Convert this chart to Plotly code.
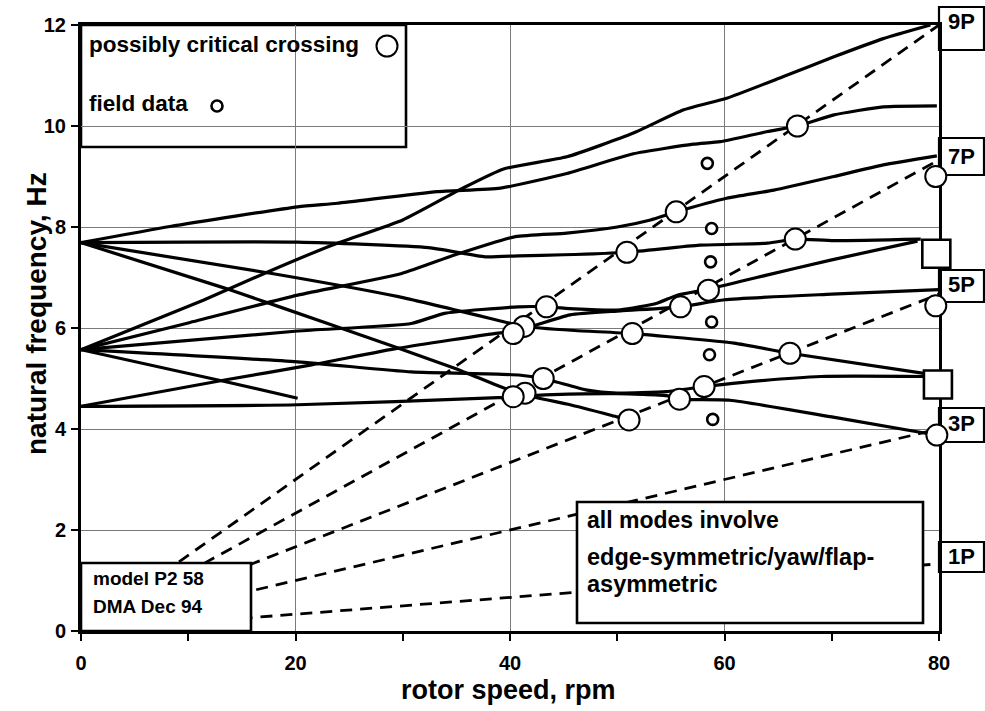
import plotly.graph_objects as go

# ---------------- data ----------------
# solid mode curves: rotor speed (rpm) and natural frequency (Hz)
modeA_x = [0, 8.3, 20.2, 23.9, 33.2, 39.1, 45.3, 51.5, 57.1, 59.6, 64, 66.8, 70.2, 74.8, 79.8]
modeA_y = [7.69, 8.01, 8.40, 8.47, 8.70, 8.77, 9.06, 9.45, 9.64, 9.69, 9.89, 10.0, 10.22, 10.38, 10.40]

modeB_x = [0, 11.4, 17.3, 23.4, 30, 35.6, 39.4, 45.3, 51.5, 56.2, 60.2, 65.5, 70.2, 74.8, 79.2]
modeB_y = [5.57, 6.55, 7.1, 7.64, 8.14, 8.77, 9.15, 9.39, 9.86, 10.32, 10.55, 10.98, 11.37, 11.73, 12.0]

modeC_x = [0, 10, 20.2, 29.9, 34.9, 40.5, 45.3, 50, 53.1, 55.5, 60.2, 64.6, 70.2, 74.8, 79.8]
modeC_y = [5.57, 6.1, 6.65, 7.08, 7.45, 7.81, 7.88, 8.0, 8.14, 8.3, 8.57, 8.73, 9.0, 9.23, 9.41]

modeL1_x = [0, 20.2, 32.4, 37.7, 40.8, 45, 50.9, 57.7, 64, 66.6, 70.2, 78.3]
modeL1_y = [7.69, 7.70, 7.59, 7.41, 7.43, 7.45, 7.5, 7.64, 7.68, 7.76, 7.73, 7.76]

modeL2_x = [0, 17.8, 29.6, 39.5, 41.3, 46, 51.4, 60.9, 66.1, 78.6]
modeL2_y = [7.69, 7.08, 6.62, 6.12, 6.03, 5.95, 5.89, 5.70, 5.5, 5.1]

modeL3_x = [0, 13.4, 23.4, 34.9, 39.8, 42.5, 45.6, 50, 51.1]
modeL3_y = [7.69, 6.79, 6.06, 5.20, 4.78, 4.62, 4.48, 4.24, 4.18]

modeD_x = [0, 20.2, 30.8, 33.9, 40.8, 43.4, 46, 50.3, 53.7, 55.6, 58.5, 63, 70, 78.0]
modeD_y = [5.57, 5.94, 6.09, 6.29, 6.42, 6.42, 6.38, 6.36, 6.49, 6.65, 6.77, 7.0, 7.35, 7.72]

modeG_x = [0, 13.4, 21.5, 29.6, 38.9, 40.3, 45.6, 50.3, 55.9, 60, 70, 80]
modeG_y = [4.45, 4.97, 5.27, 5.6, 5.9, 5.92, 6.26, 6.34, 6.42, 6.56, 6.67, 6.76]

modeF_x = [0, 20.2, 30.8, 40.8, 43.1, 47.2, 50, 54.6, 58.1, 61.5, 69, 78.6]
modeF_y = [5.57, 5.33, 5.13, 5.07, 5.0, 4.77, 4.71, 4.74, 4.84, 4.92, 5.04, 5.04]

modeH_x = [0, 20.2, 38.9, 40.3, 44, 50, 54.6, 55.8, 60.5, 70, 78.9]
modeH_y = [4.45, 4.48, 4.62, 4.64, 4.68, 4.70, 4.66, 4.59, 4.57, 4.24, 3.91]

modeS_x = [0, 13.4, 20.2]
modeS_y = [5.57, 4.94, 4.61]

mode_curves = [
    (modeA_x, modeA_y), (modeB_x, modeB_y), (modeC_x, modeC_y),
    (modeL1_x, modeL1_y), (modeL2_x, modeL2_y), (modeL3_x, modeL3_y),
    (modeD_x, modeD_y), (modeG_x, modeG_y), (modeF_x, modeF_y),
    (modeH_x, modeH_y), (modeS_x, modeS_y),
]

# per-rev excitation lines (dashed): order labels and frequency at 0 / 80 rpm
harmonic_labels = ["1P", "3P", "5P", "7P", "9P"]
harmonic_rpm = [0, 80]
harmonic_f_at_0 = [0, 0, 0, 0, 0]
harmonic_f_at_80 = [1.33, 4.0, 6.67, 9.33, 12.0]

# possibly critical crossings (large circles)
crossing_x = [41.3, 40.3, 43.4, 51.4, 55.9, 58.5, 41.4, 40.3, 43.1, 51.1, 55.8, 58.1,
              50.9, 55.5, 66.8, 66.6, 66.1, 79.7, 79.7, 79.8]
crossing_y = [6.03, 5.89, 6.42, 5.89, 6.42, 6.75, 4.71, 4.64, 5.00, 4.18, 4.59, 4.84,
              7.50, 8.30, 10.0, 7.76, 5.50, 9.00, 6.44, 3.88]

# field data (small circles)
field_x = [58.4, 58.8, 58.7, 58.8, 58.6, 58.9]
field_y = [9.26, 7.97, 7.31, 6.12, 5.47, 4.19]

# end-of-range square markers
square_x = [79.75, 79.9]
square_y = [7.47, 4.88]

x_ticks = [0, 20, 40, 60, 80]
y_ticks = [0, 2, 4, 6, 8, 10, 12]

# ---------------- layout helpers ----------------
W, H = 985, 711
L, R, T, B = 81, 939, 25, 631   # plot area in pixels
FONT = "Liberation Sans, Arial, Helvetica, sans-serif"


def px_x(px):
    return (px - L) / (R - L)


def px_y(py):
    return (B - py) / (B - T)


fig = go.Figure()

# dashed harmonic lines
for lab, f0, f1 in zip(harmonic_labels, harmonic_f_at_0, harmonic_f_at_80):
    fig.add_trace(go.Scatter(x=harmonic_rpm, y=[f0, f1], mode="lines",
                             line=dict(color="black", width=2.8, dash="12px,8px"),
                             hoverinfo="skip", showlegend=False))

# solid mode curves
for cx, cy in mode_curves:
    fig.add_trace(go.Scatter(x=cx, y=cy, mode="lines",
                             line=dict(color="black", width=3.2, shape="spline", smoothing=0.5),
                             showlegend=False))

# squares
fig.add_trace(go.Scatter(x=square_x, y=square_y, mode="markers", cliponaxis=False,
                         marker=dict(symbol="square", size=28, color="white",
                                     line=dict(color="black", width=2.6)),
                         showlegend=False))

# crossing circles
fig.add_trace(go.Scatter(x=crossing_x, y=crossing_y, mode="markers", cliponaxis=False,
                         marker=dict(symbol="circle", size=21, color="white",
                                     line=dict(color="black", width=2)),
                         showlegend=False))

# field data
fig.add_trace(go.Scatter(x=field_x, y=field_y, mode="markers", cliponaxis=False,
                         marker=dict(symbol="circle", size=11, color="white",
                                     line=dict(color="black", width=2.6)),
                         showlegend=False))

# legend box symbols (placed in data space inside the legend box)
fig.add_trace(go.Scatter(x=[(387 - L) / (R - L) * 80], y=[(B - 46) / (B - T) * 12],
                         mode="markers", cliponaxis=False,
                         marker=dict(symbol="circle", size=21, color="white",
                                     line=dict(color="black", width=2)),
                         showlegend=False))
fig.add_trace(go.Scatter(x=[(217 - L) / (R - L) * 80], y=[(B - 106) / (B - T) * 12],
                         mode="markers", cliponaxis=False,
                         marker=dict(symbol="circle", size=11, color="white",
                                     line=dict(color="black", width=2.6)),
                         showlegend=False))

shapes = []
# legend box (covers gridlines, below markers)
shapes.append(dict(type="rect", xref="paper", yref="paper",
                   x0=px_x(L), x1=px_x(406), y0=px_y(147), y1=px_y(T),
                   fillcolor="white", line=dict(color="black", width=2.6), layer="between"))
# model box
shapes.append(dict(type="rect", xref="paper", yref="paper",
                   x0=px_x(L), x1=px_x(251), y0=px_y(B), y1=px_y(563),
                   fillcolor="white", line=dict(color="black", width=2.6), layer="above"))
# all modes box
shapes.append(dict(type="rect", xref="paper", yref="paper",
                   x0=px_x(577), x1=px_x(923), y0=px_y(623), y1=px_y(502),
                   fillcolor="white", line=dict(color="black", width=2.6), layer="above"))
# right-hand harmonic label boxes
label_boxes = {"9P": (7, 50), "7P": (138, 175), "5P": (270, 302), "3P": (408, 442), "1P": (542, 572)}
for lab, (ytop, ybot) in label_boxes.items():
    shapes.append(dict(type="rect", xref="paper", yref="paper",
                       x0=px_x(R), x1=px_x(984), y0=px_y(ybot), y1=px_y(ytop),
                       fillcolor="white", line=dict(color="black", width=2.2), layer="below"))

annotations = []


def txt(text, px, py, size, xanchor="left"):
    annotations.append(dict(text="<b>%s</b>" % text, xref="paper", yref="paper",
                            x=px_x(px), y=px_y(py), xanchor=xanchor, yanchor="middle",
                            showarrow=False, font=dict(family=FONT, size=size, color="black")))


txt("possibly critical crossing", 87, 45, 22.5)
txt("field data", 87, 104, 22.5)
txt("model P2 58", 91, 578, 19)
txt("DMA Dec 94", 91, 606, 19)
txt("all modes involve", 585, 520, 23)
txt("edge-symmetric/yaw/flap-", 585, 557, 23.5)
txt("asymmetric", 585, 584, 23.5)
label_centers = {"9P": 22, "7P": 156, "5P": 284, "3P": 424, "1P": 556}
for lab, cy in label_centers.items():
    txt(lab, 946, cy, 22)

# axis titles
annotations.append(dict(text="<b>rotor speed, rpm</b>", xref="paper", yref="paper",
                        x=px_x(508), y=px_y(690), xanchor="center", yanchor="middle",
                        showarrow=False, font=dict(family=FONT, size=27, color="black")))
annotations.append(dict(text="<b>natural frequency, Hz</b>", xref="paper", yref="paper",
                        x=px_x(36), y=px_y(314), xanchor="center", yanchor="middle",
                        textangle=-90, showarrow=False,
                        font=dict(family=FONT, size=28, color="black")))

axis_common = dict(showline=True, linecolor="black", linewidth=3, mirror=True,
                   ticks="outside", ticklen=7, tickwidth=2, tickcolor="black",
                   showgrid=True, gridcolor="#7a7a7a", gridwidth=1, zeroline=False,
                   layer="below traces", automargin=False,
                   tickfont=dict(family=FONT, size=20, color="black", weight="bold"))

fig.update_layout(
    width=W, height=H,
    margin=dict(l=L, r=W - R, t=T, b=H - B, pad=0, autoexpand=False),
    paper_bgcolor="white", plot_bgcolor="white",
    showlegend=False,
    shapes=shapes, annotations=annotations,
    xaxis=dict(range=[0, 80], tickvals=x_ticks, ticktext=[str(v) for v in x_ticks],
               minor=dict(dtick=10, tick0=0, ticks="outside", ticklen=7, tickwidth=2,
                          tickcolor="black", showgrid=False),
               ticklabelstandoff=5, **axis_common),
    yaxis=dict(range=[0, 12], tickvals=y_ticks, ticktext=[str(v) for v in y_ticks],
               ticklabelstandoff=1, **axis_common),
)

fig.write_html("out.html", config={"displayModeBar": False},
               post_script="document.body.style.margin='0';document.body.style.padding='0';"
                           "document.body.style.overflow='hidden';")
